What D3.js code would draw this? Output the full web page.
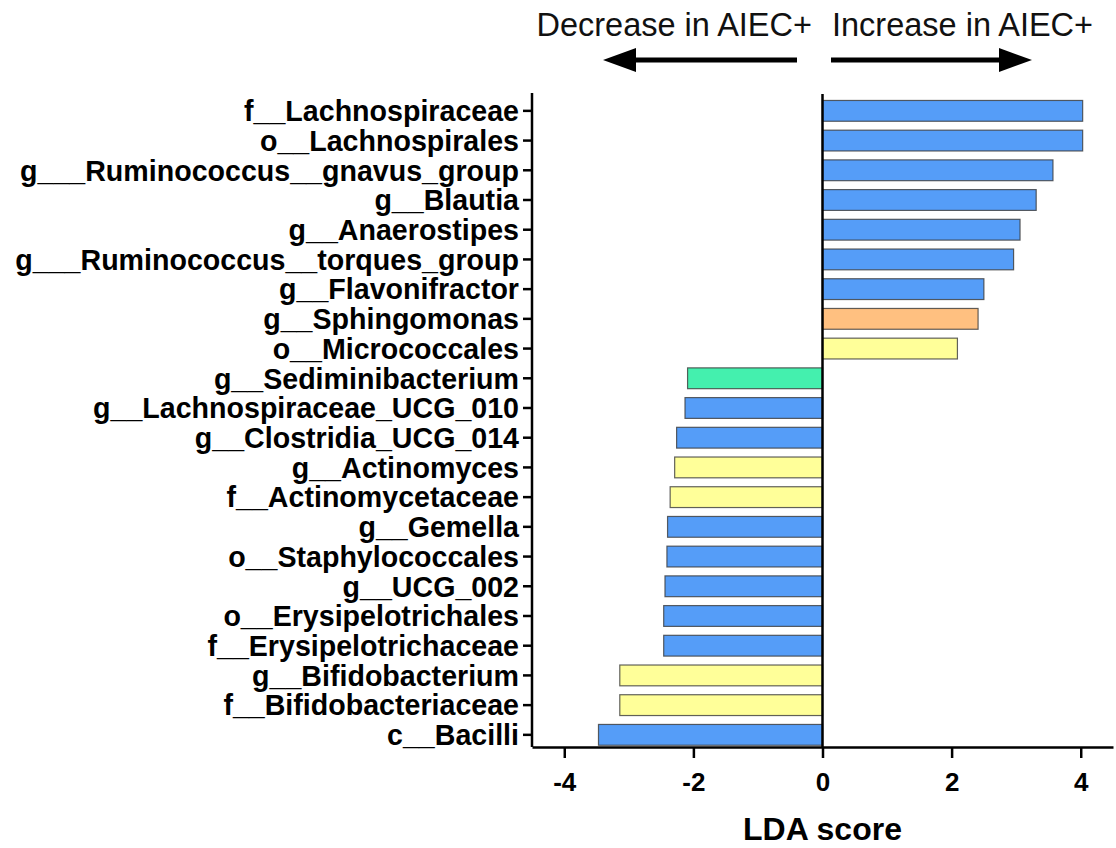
<!DOCTYPE html>
<html><head><meta charset="utf-8">
<script src="https://cdn.jsdelivr.net/npm/d3@7"></script>
<style>body{margin:0;background:#fff}svg{display:block}</style>
</head><body>
<svg id="c" width="1116" height="848"></svg>
<script>
const categories = ["f__Lachnospiraceae","o__Lachnospirales","g___Ruminococcus__gnavus_group","g__Blautia","g__Anaerostipes","g___Ruminococcus__torques_group","g__Flavonifractor","g__Sphingomonas","o__Micrococcales","g__Sediminibacterium","g__Lachnospiraceae_UCG_010","g__Clostridia_UCG_014","g__Actinomyces","f__Actinomycetaceae","g__Gemella","o__Staphylococcales","g__UCG_002","o__Erysipelotrichales","f__Erysipelotrichaceae","g__Bifidobacterium","f__Bifidobacteriaceae","c__Bacilli"];
const ldaScores = [4.03,4.03,3.57,3.31,3.06,2.96,2.50,2.41,2.09,-2.09,-2.13,-2.26,-2.29,-2.36,-2.40,-2.41,-2.44,-2.46,-2.46,-3.14,-3.14,-3.47];
const phylumGroup = ["Firmicutes","Firmicutes","Firmicutes","Firmicutes","Firmicutes","Firmicutes","Firmicutes","Proteobacteria","Actinobacteria","Bacteroidetes","Firmicutes","Firmicutes","Actinobacteria","Actinobacteria","Firmicutes","Firmicutes","Firmicutes","Firmicutes","Firmicutes","Actinobacteria","Actinobacteria","Firmicutes"];
const groupNames = ["Firmicutes","Proteobacteria","Actinobacteria","Bacteroidetes"];
const groupColors = ["#559df8","#ffc080","#ffff99","#44f0ae"];
const xTicks = [-4,-2,0,2,4];
const xDomain = [-4.5,4.5];
const xTitle = "LDA score";
const leftNote = "Decrease in AIEC+";
const rightNote = "Increase in AIEC+";

(function(){
const data = categories.map((c,i)=>({name:c,value:ldaScores[i],group:phylumGroup[i]}));
const svg = d3.select("#c");
const pLeft = 532, pRight = 1113, pTop = 96, pBottom = 749.7, axisY = 747;
const x = d3.scaleLinear().domain(xDomain).range([pLeft,pRight]);
const y = d3.scaleBand().domain(categories).range([pTop,pBottom]).paddingInner(0.3).paddingOuter(0.15);
const color = d3.scaleOrdinal().domain(groupNames).range(groupColors);
const font = "'Liberation Sans', Arial, Helvetica, sans-serif";

svg.append("g").selectAll("rect").data(data).join("rect")
  .attr("x", d=>x(Math.min(0,d.value)))
  .attr("y", d=>y(d.name))
  .attr("width", d=>Math.abs(x(d.value)-x(0)))
  .attr("height", y.bandwidth())
  .attr("fill", d=>color(d.group))
  .attr("stroke", "#3a3a3a").attr("stroke-opacity",0.8).attr("stroke-width",1.2);

svg.append("line").attr("x1",x(0)).attr("x2",x(0)).attr("y1",94).attr("y2",axisY)
  .attr("stroke","#000").attr("stroke-width",2.5);

const xa = svg.append("g").attr("transform",`translate(0,${axisY})`)
  .call(d3.axisBottom(x).tickValues(xTicks).tickSize(11).tickSizeOuter(0).tickFormat(d3.format("d")));
xa.select(".domain").attr("stroke","#000").attr("stroke-width",2.5);
xa.selectAll(".tick line").attr("stroke","#000").attr("stroke-width",2.5);
xa.selectAll(".tick text").attr("font-family",font).attr("font-weight","bold").attr("font-size",26)
  .attr("fill","#000").attr("dy","1.15em").text(d=>d<0?"-"+Math.abs(d):d);

const ya = svg.append("g").attr("transform",`translate(${pLeft},0)`)
  .call(d3.axisLeft(y).tickSize(9).tickSizeOuter(0).tickPadding(4));
ya.select(".domain").attr("stroke","#000").attr("stroke-width",2.5).attr("d",`M0,93V${axisY}`);
ya.selectAll(".tick line").attr("stroke","#000").attr("stroke-width",2.5);
ya.selectAll(".tick text").attr("font-family",font).attr("font-weight","bold").attr("font-size",28.6)
  .attr("fill","#000").attr("dy","0.36em");

svg.append("text").attr("x",x(0)).attr("y",840).attr("text-anchor","middle")
  .attr("font-family",font).attr("font-weight","bold").attr("font-size",32).text(xTitle);

svg.append("text").attr("x",812).attr("y",36).attr("text-anchor","end")
  .attr("font-family",font).attr("font-size",32.5).attr("fill","#111").text(leftNote);
svg.append("text").attr("x",832).attr("y",36).attr("text-anchor","start")
  .attr("font-family",font).attr("font-size",32.5).attr("fill","#111").text(rightNote);

const arrowY = 60;
svg.append("line").attr("x1",797).attr("x2",630).attr("y1",arrowY).attr("y2",arrowY).attr("stroke","#000").attr("stroke-width",5);
svg.append("path").attr("d",`M603,${arrowY}L636,${arrowY-12}L636,${arrowY+12}Z`).attr("fill","#000");
svg.append("line").attr("x1",831).attr("x2",1005).attr("y1",arrowY).attr("y2",arrowY).attr("stroke","#000").attr("stroke-width",5);
svg.append("path").attr("d",`M1032,${arrowY}L999,${arrowY-12}L999,${arrowY+12}Z`).attr("fill","#000");
})();
</script>
</body></html>
